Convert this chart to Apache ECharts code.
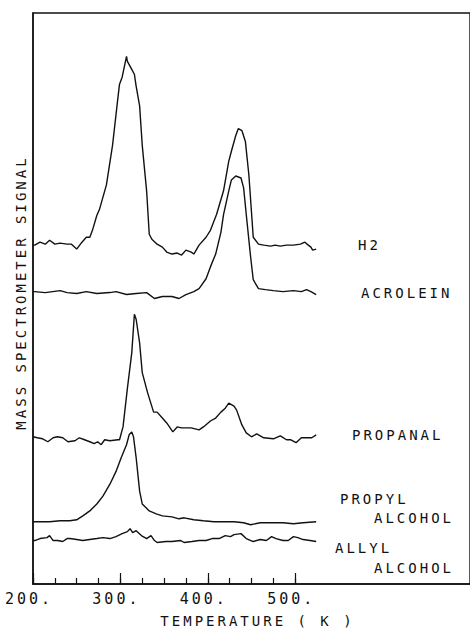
<!DOCTYPE html>
<html>
<head>
<meta charset="utf-8">
<script src="https://cdn.jsdelivr.net/npm/echarts@6/dist/echarts.min.js"></script>
<style>
  html, body { margin: 0; padding: 0; background: #fff; }
  #chart { width: 470px; height: 633px; }
  #chart text { letter-spacing: 3px; }
</style>
</head>
<body>
<div id="chart"></div>
<script>
// Temperature (K) and signal (arbitrary units, with the plot's vertical offsets)
const h2T = [200,202,208,214,219,225,231,239,244,250,256,261,265,268,273,276,284,291,297,299,302,307,308,313,316,318,322,325,330,333,336,342,348,353,359,365,370,375,381,384,390,398,403,410,418,424,427,432,435,439,443,447,452,458,464,472,477,483,490,498,506,511,515,518,520,524];
const h2S = [343,343,346,344,348,344,345,344,344,339,346,351,351,358,373,379,404,444,491,506,513,534,529,521,516,504,484,444,398,354,349,344,341,336,334,335,333,338,336,334,343,351,358,374,398,428,438,454,461,459,448,414,351,344,343,342,343,342,343,343,344,346,343,341,338,339];

const acroT = [200,202,214,231,239,250,261,273,288,295,307,318,330,339,348,359,367,375,384,390,398,403,409,415,418,424,427,432,438,441,444,449,452,458,466,475,486,498,507,513,518,524];
const acroS = [296,296,295,297,295,294,296,294,295,296,293,294,295,289,291,291,289,293,296,299,309,321,334,356,374,398,409,413,411,401,374,331,308,299,298,297,296,297,296,298,296,293];

const propanalT = [200,205,211,217,223,228,234,240,248,253,259,265,270,274,278,282,288,297,299,303,308,313,316,318,322,325,331,338,342,348,353,360,365,370,381,390,395,403,409,415,420,424,430,433,439,444,450,456,464,475,483,490,495,501,507,513,519,524];
const propanalS = [149,148,147,144,148,149,148,144,145,148,146,144,142,144,141,146,145,146,146,159,198,234,273,268,244,214,194,174,174,168,163,154,159,158,158,156,159,165,168,174,178,183,180,176,161,153,149,152,148,147,150,146,146,143,148,148,148,151];

const propylT = [200,208,219,231,242,250,257,265,273,280,288,295,301,307,310,313,315,318,322,325,333,341,348,359,367,373,384,395,407,418,430,441,449,460,475,486,498,509,524];
const propylS = [63,63,63,64,64,65,69,74,81,89,101,114,128,141,151,154,149,128,94,81,74,71,69,68,66,67,65,64,63,63,63,62,60,62,62,62,61,62,63];

const allylT = [200,202,208,216,219,223,228,234,239,242,250,257,265,273,280,288,295,302,308,311,314,318,324,330,335,339,342,352,359,369,373,382,390,398,405,413,420,426,430,438,444,452,460,467,473,478,486,492,498,503,509,517,524];
const allylS = [44,44,46,47,49,44,44,43,46,46,45,44,45,46,47,46,48,51,53,56,52,54,49,46,49,44,42,43,43,44,42,43,44,44,46,46,49,48,50,51,46,43,45,44,48,46,44,44,48,47,45,44,43];

const seriesNames = ['H2', 'ACROLEIN', 'PROPANAL', 'PROPYL ALCOHOL', 'ALLYL ALCOHOL'];
const majorTicks = [200, 300, 400, 500];
const minorTicks = [200,225,250,275,300,325,350,375,400,425,450,475,500];
const xTitle = 'TEMPERATURE ( K )';
const yTitle = 'MASS SPECTROMETER SIGNAL';

const FONT = "'DejaVu Sans Mono', monospace";
const INK = '#111';

function pairs(t, s) { return t.map((v, i) => [v, s[i]]); }
const allData = [pairs(h2T, h2S), pairs(acroT, acroS), pairs(propanalT, propanalS), pairs(propylT, propylS), pairs(allylT, allylS)];

// label annotation text positions (pixels)
const labelSpecs = [
  { text: 'H2', x: 358, y: 246 },
  { text: 'ACROLEIN', x: 361, y: 294 },
  { text: 'PROPANAL', x: 352, y: 436 },
  { text: 'PROPYL', x: 340, y: 500 },
  { text: 'ALCOHOL', x: 374, y: 519 },
  { text: 'ALLYL', x: 335, y: 549 },
  { text: 'ALCOHOL', x: 374, y: 569 }
];

const chart = echarts.init(document.getElementById('chart'), null, { renderer: 'svg' });
chart.setOption({
  animation: false,
  backgroundColor: '#fff',
  grid: { left: 33, right: -3, top: 13, bottom: 42, show: true, borderColor: INK, borderWidth: 1.4, backgroundColor: 'transparent' },
  xAxis: [{
    type: 'value', min: 200, max: 700, interval: 25, position: 'bottom',
    axisLine: { show: true, lineStyle: { color: INK, width: 1.5 } },
    axisTick: { show: true, inside: true, length: 6, customValues: minorTicks, lineStyle: { color: INK, width: 1.2 } },
    axisLabel: { show: true, customValues: majorTicks, formatter: v => v + '.', margin: 7, padding: [0, 8, 0, 0], color: INK, fontFamily: FONT, fontSize: 15 },
    splitLine: { show: false },
    name: xTitle, nameLocation: 'middle', nameGap: 30,
    nameTextStyle: { color: INK, fontFamily: FONT, fontSize: 14, padding: [0, 0, 0, 12] }
  }, {
    type: 'value', min: 200, max: 700, interval: 25, position: 'bottom',
    axisLine: { show: false },
    axisTick: { show: true, inside: true, length: 11, customValues: majorTicks, lineStyle: { color: INK, width: 1.2 } },
    axisLabel: { show: false },
    splitLine: { show: false }
  }],
  yAxis: {
    type: 'value', min: 0, max: 578,
    axisLine: { show: true, lineStyle: { color: INK, width: 1.5 } },
    axisTick: { show: false }, axisLabel: { show: false }, splitLine: { show: false },
    name: yTitle, nameLocation: 'middle', nameGap: 5, nameRotate: 90,
    nameTextStyle: { color: INK, fontFamily: FONT, fontSize: 14, padding: [0, 0, 0, 12] }
  },
  series: allData.map((d, i) => ({
    name: seriesNames[i], type: 'line', data: d, showSymbol: false, symbol: 'none',
    lineStyle: { color: INK, width: 1.4 }, xAxisIndex: 0, yAxisIndex: 0
  })),
  graphic: labelSpecs.map(l => ({
    type: 'text', left: l.x, top: l.y - 8,
    style: { text: l.text, fill: INK, font: '14px ' + FONT }
  }))
});
</script>
</body>
</html>
